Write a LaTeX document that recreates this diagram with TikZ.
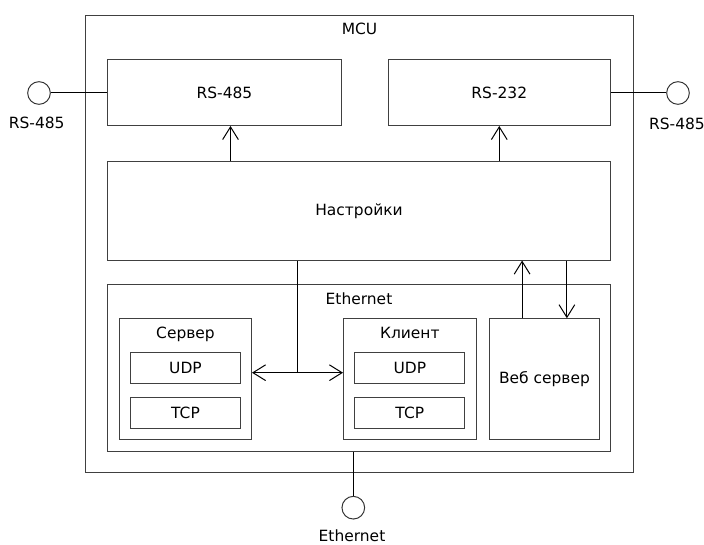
\documentclass[tikz,border=0pt]{standalone}
\usepackage{fontspec}
\setmainfont{DejaVu Sans}
\usetikzlibrary{arrows.meta}

\begin{document}
\begin{tikzpicture}[x=0.75pt, y=-0.75pt, line width=0.75pt,
    font=\fontsize{11.6}{14}\selectfont,
    blk/.style={draw=black!75, inner sep=0pt, anchor=north west},
    title/.style={label={[anchor=base, yshift=-15pt]north:#1}},
    port/.style={circle, draw=black!80, minimum size=17pt, inner sep=0pt},
    arr/.style={-{Straight Barb[length=9.5pt, width=11.8pt]}},
    arrs/.style={{Straight Barb[length=9.5pt, width=11.8pt]}-{Straight Barb[length=9.5pt, width=11.8pt]}}]
    \useasboundingbox (0,0) rectangle (704,545);

    % MCU and its blocks
    \node[blk, minimum width=411pt, minimum height=343.1pt, title=MCU] (mcu) at ({85}, {15}) {};
    \node[blk, minimum width=175.5pt, minimum height=49.1pt] (rs485) at ({107}, {59.5}) {RS-485};
    \node[blk, minimum width=166.9pt, minimum height=49.1pt] (rs232) at ({387.5}, {59.5}) {RS-232};
    \node[blk, minimum width=377.25pt, minimum height=73.9pt] (nastr) at ({107}, {161}) {Настройки};
    \node[blk, minimum width=377.25pt, minimum height=125pt, title=Ethernet] (eth) at ({107}, {284.3}) {};

    % Ethernet contents
    \node[blk, minimum width=99pt, minimum height=90.75pt, title=Сервер] (server) at ({119}, {318.3}) {};
    \node[blk, minimum width=82.5pt, minimum height=23.7pt] (sudp) at ({130}, {351.7}) {UDP};
    \node[blk, minimum width=82.5pt, minimum height=23.7pt] (stcp) at ({130}, {396.7}) {TCP};
    \node[blk, minimum width=99.5pt, minimum height=90.75pt, title=Клиент] (client) at ({343}, {318.3}) {};
    \node[blk, minimum width=82.5pt, minimum height=23.7pt] (cudp) at ({354.3}, {351.7}) {UDP};
    \node[blk, minimum width=82.5pt, minimum height=23.7pt] (ctcp) at ({354.3}, {396.7}) {TCP};
    \node[blk, minimum width=82.5pt, minimum height=90.75pt] (web) at ({489}, {318.3}) {Веб сервер};

    % external ports
    \node[port] (pleft) at ({39}, {93}) {};
    \node (lleft) at ({36.7}, {123}) {RS-485};
    \node[port] (pright) at ({678}, {93}) {};
    \node (lright) at ({677}, {124}) {RS-485};
    \node[port] (pbot) at ({353.3}, {507.7}) {};
    \node[inner sep=0pt] (lbot) at ({352}, {535.5}) {Ethernet};

    % connections
    \draw (pleft.east) -- (pleft.east -| rs485.west);
    \draw (pright.west -| rs232.east) -- (pright.west);
    \draw (pbot.north |- eth.south) -- (pbot.north);
    \draw[arr] ([xshift=4.5pt]rs485.south |- nastr.north) -- ([xshift=4.5pt]rs485.south);
    \draw[arr] (rs232.south |- nastr.north) -- (rs232.south);
    \coordinate (junc) at ({297.7}, {372.7});
    \draw (nastr.south -| junc) -- (junc);
    \draw[arrs] (server.east |- junc) -- (client.west |- junc);
    \draw[arr] ([xshift=-16.8pt]web.north) -- ([xshift=-16.8pt]web.north |- nastr.south);
    \draw[arr] ([xshift=16.8pt]web.north |- nastr.south) -- ([xshift=16.8pt]web.north);
\end{tikzpicture}
\end{document}
